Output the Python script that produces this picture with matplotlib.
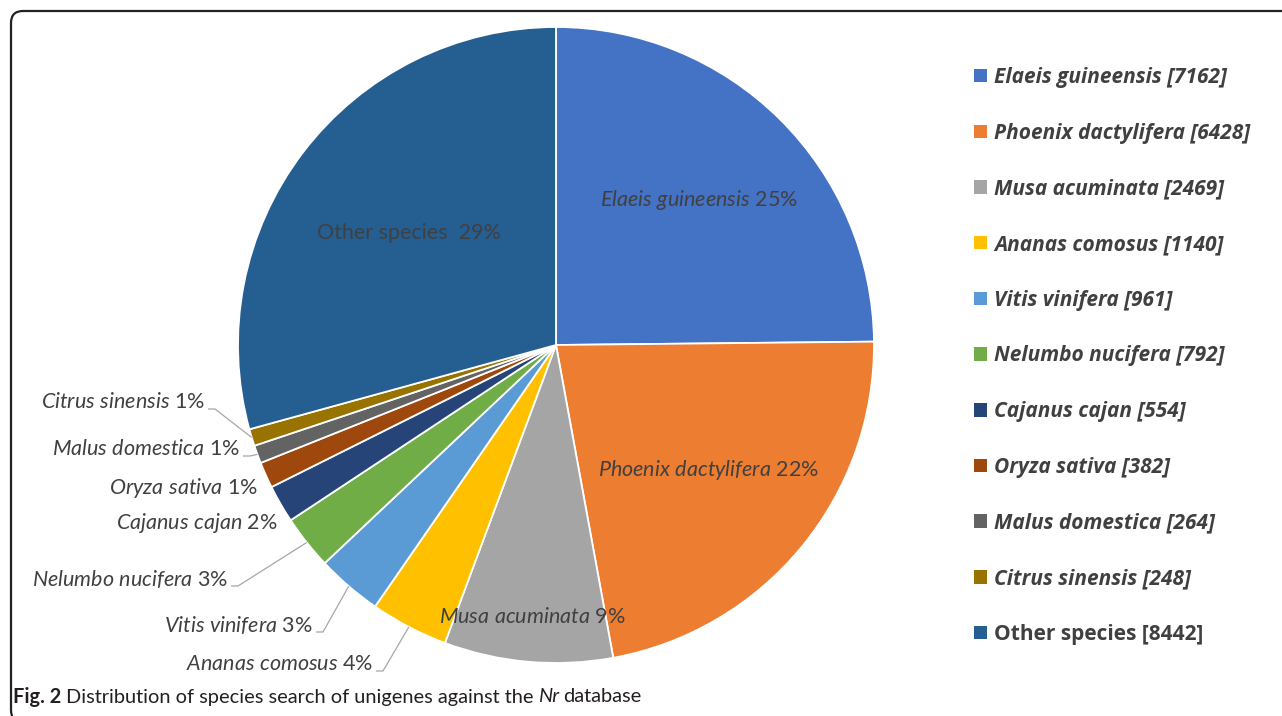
import matplotlib
matplotlib.use("Agg")
import matplotlib.pyplot as plt
import numpy as np
from matplotlib.patches import FancyBboxPatch, Patch

# ---- data ----
species = ["Elaeis guineensis", "Phoenix dactylifera", "Musa acuminata", "Ananas comosus",
           "Vitis vinifera", "Nelumbo nucifera", "Cajanus cajan", "Oryza sativa",
           "Malus domestica", "Citrus sinensis", "Other species"]
counts = [7162, 6428, 2469, 1140, 961, 792, 554, 382, 264, 248, 8442]
percent_labels = ["25%", "22%", "9%", "4%", "3%", "3%", "2%", "1%", "1%", "1%", "29%"]
colors = ["#4472C4", "#ED7D31", "#A5A5A5", "#FFC000", "#5B9BD5", "#70AD47",
          "#264478", "#9E480E", "#636363", "#997300", "#255E91"]

W, H = 1282, 716
TXT = "#404040"

plt.rcParams["font.family"] = ["Lato", "DejaVu Sans"]
plt.rcParams["mathtext.fontset"] = "custom"
plt.rcParams["mathtext.rm"] = "Lato"
plt.rcParams["mathtext.it"] = "Lato:italic"
plt.rcParams["mathtext.bf"] = "Lato:bold"

fig = plt.figure(figsize=(W / 100, H / 100), dpi=100)
ax = fig.add_axes([0, 0, 1, 1])


def py(y):
    # pixel row (from top) -> data y
    return H - y


cx, cy, R = 556, py(345), 318
wedges, _ = ax.pie(counts, colors=colors, startangle=90, counterclock=False,
                   center=(cx, cy), radius=R,
                   wedgeprops=dict(edgecolor="white", linewidth=1.3))
ax.set_xlim(0, W)
ax.set_ylim(0, H)
ax.set_aspect("equal")
ax.axis("off")


def mid_angle(w):
    return np.deg2rad((w.theta1 + w.theta2) / 2)


def label_text(i):
    name = species[i]
    if name == "Other species":
        return f"{name}  {percent_labels[i]}"
    return r"$\mathit{" + name.replace(" ", r"\ ") + "}$ " + percent_labels[i]


LBL = 15.5

# inside labels: index -> radial fraction
inside = {0: 0.64, 1: 0.62, 2: 0.86, 10: 0.58}
for i, frac in inside.items():
    a = mid_angle(wedges[i])
    ax.text(cx + frac * R * np.cos(a), cy + frac * R * np.sin(a), label_text(i),
            ha="center", va="center", fontsize=LBL, color=TXT)

# outside labels: index -> (right edge px, centre row px, leader?)
outside = {9: (205, 402, True), 8: (240, 449, True), 7: (258, 488, False),
           6: (278, 523, False), 5: (228, 579, True), 4: (313, 625, True),
           3: (373, 664, True)}
for i, (xr, yc, leader) in outside.items():
    ax.text(xr, py(yc), label_text(i), ha="right", va="center", fontsize=LBL, color=TXT)
    if leader:
        a = mid_angle(wedges[i])
        ex, ey = cx + R * np.cos(a), cy + R * np.sin(a)
        ax.plot([xr + 3, xr + 10, ex], [py(yc + 7), py(yc + 7), ey],
                color="#A6A6A6", lw=0.9, solid_capstyle="butt")

# legend
handles = [Patch(facecolor=c, edgecolor="none") for c in colors]
labels = [f"{s} [{n}]" for s, n in zip(species, counts)]
leg = ax.legend(handles, labels, loc="upper left", bbox_to_anchor=(974 / W, 1 - 67 / H),
                frameon=False, prop={"family": "Open Sans", "size": 15},
                handlelength=0.62, handleheight=0.62,
                handletextpad=0.35, labelspacing=1.665, borderpad=0, borderaxespad=0)
for t in leg.get_texts():
    t.set_color(TXT)
    t.set_fontweight("bold")
    if not t.get_text().startswith("Other"):
        t.set_fontstyle("italic")

# frame
ax.add_patch(FancyBboxPatch((11, -6), W + 40, py(11) + 6, boxstyle="round,pad=0,rounding_size=12",
                            fill=False, edgecolor="#222222", lw=1.6, clip_on=False))

# caption, built from pieces so bold / italic parts keep normal spacing
renderer = fig.canvas.get_renderer()
pieces = [("Fig. 2", dict(fontweight="bold")),
          ("Distribution of species search of unigenes against the", {}),
          ("Nr", dict(fontstyle="italic")),
          ("database", {})]
x = 13
gap = 4.5
for s, kw in pieces:
    t = fig.text(x / W, 1 - 697 / H, s, fontsize=14.4, color="#231F20",
                 ha="left", va="center", **kw)
    x += t.get_window_extent(renderer=renderer).width + gap

fig.savefig("out.png", dpi=100)
